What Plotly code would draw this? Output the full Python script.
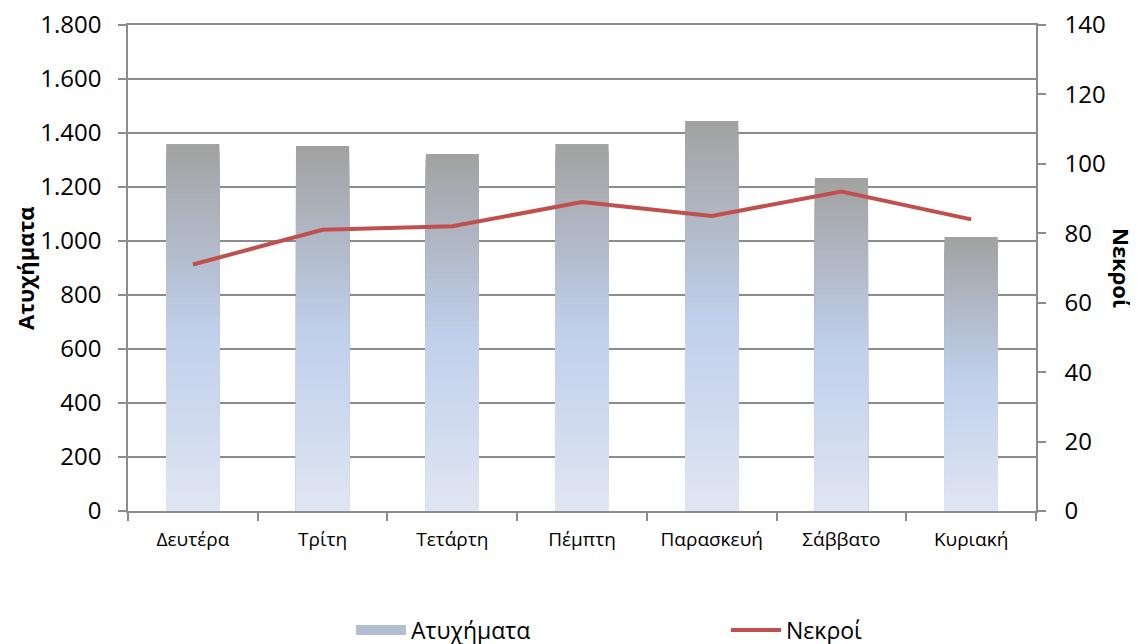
import plotly.graph_objects as go

days = ["Δευτέρα", "Τρίτη", "Τετάρτη", "Πέμπτη", "Παρασκευή", "Σάββατο", "Κυριακή"]
accidents = [1359, 1352, 1322, 1359, 1444, 1233, 1015]
deaths = [71, 81, 82, 89, 85, 92, 84]

FONT = "Open Sans"
GRID = "#8c8c8c"

# gradient stops (fraction from bar bottom -> rgb)
stops = [(0.0, (224, 230, 243)), (0.5, (192, 207, 235)), (1.0, (162, 162, 162))]


def grad(t):
    for (t0, c0), (t1, c1) in zip(stops[:-1], stops[1:]):
        if t <= t1:
            f = (t - t0) / (t1 - t0)
            return "rgb(%d,%d,%d)" % tuple(round(a + (b - a) * f) for a, b in zip(c0, c1))
    return "rgb(%d,%d,%d)" % stops[-1][1]


fig = go.Figure()
N = 60
for k in range(N, 0, -1):
    frac = k / N
    fig.add_trace(go.Bar(
        x=days, y=[v * frac for v in accidents],
        marker=dict(color=grad(frac), line=dict(width=0)),
        name="Ατυχήματα", showlegend=False,
        hoverinfo="skip" if k != N else None,
        customdata=accidents,
        hovertemplate="%{customdata}<extra>Ατυχήματα</extra>",
    ))

# legend swatch for the bars
fig.add_trace(go.Scatter(
    x=[None], y=[None], mode="lines", name="Ατυχήματα",
    line=dict(color="#b4bed3", width=14), legendrank=1,
))

fig.add_trace(go.Scatter(
    x=days, y=deaths, yaxis="y2", mode="lines", name="Νεκροί",
    line=dict(color="#c0504d", width=4), legendrank=2,
))

fig.update_layout(
    width=1138, height=644,
    margin=dict(l=120, r=110, t=17, b=141, autoexpand=False),
    paper_bgcolor="white", plot_bgcolor="white",
    barmode="overlay", bargap=0.59,
    separators=",.",
    font=dict(family=FONT, color="black"),
    xaxis=dict(
        showline=True, mirror=True, linecolor=GRID, linewidth=1.5, automargin=False,
        ticks="outside", tickson="boundaries", ticklen=8, tickcolor=GRID, tickwidth=1.5,
        tickfont=dict(size=19), showgrid=False, ticklabelstandoff=10,
    ),
    yaxis=dict(
        range=[0, 1800], dtick=200, tickformat=",d", automargin=False,
        showline=True, linecolor=GRID, linewidth=1.5,
        ticks="outside", ticklen=8, tickcolor=GRID, tickwidth=1.5,
        showgrid=True, gridcolor=GRID, gridwidth=1.5,
        tickfont=dict(size=24), zeroline=False, ticklabelstandoff=12,
        ticklabeloverflow="allow",
    ),
    yaxis2=dict(
        range=[0, 140], dtick=20, overlaying="y", side="right", automargin=False,
        showline=True, linecolor=GRID, linewidth=1.5,
        ticks="outside", ticklen=8, tickcolor=GRID, tickwidth=1.5,
        showgrid=False, zeroline=False, tickfont=dict(size=24), ticklabelstandoff=14,
        ticklabeloverflow="allow",
    ),
    legend=dict(
        orientation="h", xref="container", yref="container",
        x=343 / 1138, xanchor="left", y=22 / 644, yanchor="middle",
        font=dict(size=23), entrywidth=310, itemwidth=50, traceorder="normal",
    ),
    annotations=[
        dict(text="<b>Ατυχήματα</b>", xref="paper", yref="paper", x=0, xshift=-103,
             xanchor="center", y=0.5, textangle=-90, showarrow=False, font=dict(size=22)),
        dict(text="<b>Νεκροί</b>", xref="paper", yref="paper", x=1.0, xshift=86,
             xanchor="center", y=0.5, textangle=90, showarrow=False, font=dict(size=22)),
    ],
)

fig.write_html("out.html")
